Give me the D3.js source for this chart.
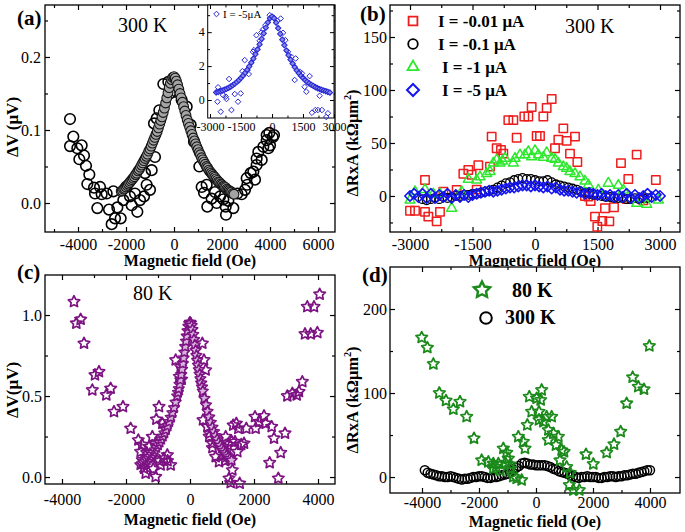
<!DOCTYPE html>
<html><head><meta charset="utf-8">
<script src="https://cdn.jsdelivr.net/npm/d3@7"></script>
<style>body{margin:0;background:#fff} svg{display:block}</style>
</head><body><svg id="c" width="685" height="532"></svg>
<script>
// ---------------- DATA ----------------
// (a) 300 K, ΔV raw data (open circles) and fit (filled circles)
const aRawField = [-4333,-4333,-4195,-4028,-3847,-3944,-3750,-3667,-3528,-3611,-3333,-3083,-3292,-3014,-2806,-3194,-2708,-2528,-2361,-2458,-2597,-2222,-2111,-2000,-1833,-1764,-1625,-1528,-1417,-1250,-1139,-1000,-1208,-931,-792,-833,-722,-611,-444,-236,-167,111,319,528,694,833,1056,1153,1250,1361,1389,1569,1708,1778,1917,2056,2153,2264,2167,2472,2639,2819,2958,3056,3028,3194,3375,3306,3444,3444,3653,3514,3722,3931,3861,4111,3861,4000,3972,4167];
const aRawDV = [0.115,0.078,0.091,0.075,0.079,0.060,0.065,0.051,0.039,0.026,0.021,0.022,0.013,0.012,0.013,-0.007,-0.009,0.016,-0.006,-0.021,-0.029,-0.021,0.004,0.022,0.009,-0.003,0.013,-0.012,0.004,0.009,0.025,0.018,0.041,0.045,0.063,0.109,0.116,0.127,0.163,0.166,0.150,0.152,0.141,0.132,0.107,0.084,0.050,0.022,0.014,0.025,-0.005,0.006,0.015,0.000,0.009,0.005,-0.005,0.003,-0.016,-0.007,0.013,0.012,0.018,0.025,0.034,0.041,0.032,0.043,0.052,0.061,0.059,0.070,0.077,0.075,0.086,0.090,0.093,0.079,0.096,0.093];
const aFitField = d3.range(-2200, 2501, 50);
const aFitDV = [0.016,0.017,0.019,0.020,0.022,0.024,0.026,0.028,0.030,0.032,0.034,0.036,0.039,0.041,0.044,0.046,0.049,0.052,0.055,0.058,0.061,0.064,0.067,0.071,0.074,0.078,0.082,0.086,0.090,0.094,0.098,0.103,0.108,0.113,0.118,0.124,0.130,0.137,0.144,0.151,0.158,0.164,0.169,0.172,0.173,
  0.171,0.167,0.162,0.156,0.150,0.144,0.138,0.132,0.126,0.120,0.114,0.109,0.104,0.099,0.094,0.089,0.085,0.081,0.077,0.073,0.069,0.066,0.062,0.059,0.056,0.053,0.050,0.048,0.045,0.043,0.041,0.039,0.037,0.035,0.033,0.031,0.029,0.028,0.026,0.025,0.023,0.022,0.021,0.019,0.018,0.017,0.016,0.015,0.013,0.012];

// inset of (a): I = -5 µA
const inRawField = [-2609,-2638,-2478,-2367,-2237,-2203,-2077,-1961,-1802,-1643,-1512,-1430,-1319,-1188,-1126,-918,-870,-754,-594,-512,-435,-319,-111,82,261,420,531,647,773,937,1145,1097,1338,1449,1580,1821,1662,1932,2097,2222,2304,2415,2628,2705];
const inRawV = [0.75,-0.1,-0.69,0.29,0.2,0.06,1.24,-0.59,0.35,-0.1,0.39,1.7,2.35,1.76,1.53,2.84,2.94,3.82,3.49,3.98,4.16,4.41,5.0,4.86,4.67,4.8,3.96,3.53,2.84,2.55,2.45,1.18,1.67,1.57,0.78,1.41,0.49,-0.75,-0.59,-0.59,0.25,-0.59,-1.0,-0.78];
const inFitField = d3.range(-2700, 2801, 100);
const inFitV = [0.45,0.48,0.52,0.56,0.61,0.66,0.72,0.79,0.87,0.96,1.06,1.17,1.30,1.44,1.60,1.78,1.98,2.20,2.44,2.70,2.98,3.28,3.60,3.93,4.26,4.57,4.82,4.92,4.82,4.56,4.24,3.90,3.56,3.23,2.92,2.64,2.38,2.15,1.94,1.75,1.58,1.43,1.30,1.18,1.07,0.98,0.90,0.83,0.76,0.70,0.65,0.60,0.56,0.52,0.48,0.44];

// (b) 300 K, ΔRxA for four currents
const bLegend = ["I = -0.01 \u03bcA", "I = -0.1 \u03bcA", "I = -1 \u03bcA", "I = -5 \u03bcA"];
const bRedField = [-3000,-2880,-2640,-2640,-2560,-2360,-2280,-2200,-1880,-1720,-1600,-1520,-1400,-1360,-1080,-1040,-920,-816,-760,-640,-520,-440,-256,-160,-80,40,120,200,280,400,480,560,680,760,840,960,1016,1200,1280,1336,1440,1496,1616,1680,1784,1896,2064,2200,2240,2440,2600,2900];
const bRedVal = [-14,-14,15,-15,-19.5,-24,-15,4,5.7,21,24.5,20,6,29,27.7,56,45,43.4,40,71.6,71.6,55,75,75,84,56.6,56.6,75,83,91.5,45,53,63.8,52,40,56,32,0,-0.6,-4.7,-19.5,-29,-23.6,-11.6,-24,-10.7,31,-3,16,39,-4,15];
const bBlackField = d3.range(-2700, 2701, 100);
const bBlackVal = [-3,-4,-3,-2,-3,-1,-2,-1,0,0,1,1,2,2,3,4,5,6,8,10,12,13,15,16,17,16,16,15,14,14,15,13,11,10,9,8,7,6,4,3,2,1,1,0,-1,-1,-2,-2,-2,-3,-3,-2,-3,-2,-2];
const bGreenField = [-3000,-2880,-2640,-2440,-2280,-2000,-1760,-1600,-1400,-1320,-1160,-1080,-1000,-920,-840,-780,-720,-520,-480,-360,-240,-160,-80,0,80,200,280,400,480,560,680,760,840,960,1080,1200,1280,1520,1760,2000,2120,2440,2680,2960];
const bGreenVal = [-4,4,6,2,2,-11.6,4,15.7,15,18,21,23,31,34,31,33,35.5,31,35.5,38.7,38.7,41.8,37,42.7,38.7,36.5,40.8,35.5,34.6,31,27.6,26,23,21,18,14,10.4,5.6,12,10,5.6,-7,-8,-4];
const bBlueField = d3.range(-3000, 3001, 100);
const bBlueVal = [0,2,-1,2,-2,2,-2,1,-1,2,-2,1,-1,1,-1,1,2,3,4,5,4,5,6,7,8,8,9,10,10,9,10,9,8,9,7,8,6,5,5,4,3,4,2,3,2,1,2,0,1,-1,1,-1,2,-2,1,-2,0,2,-1,1,0];

// (c) 80 K, ΔV raw (stars) and fit (filled stars)
const cRawField = [-3625,-3552,-3417,-3312,-2969,-2844,-3052,-2615,-2479,-2375,-2094,-1854,-1615,-1542,-1490,-1437,-1385,-1281,-1177,-1073,-1073,-969,-1052,-865,-812,-917,-708,-604,-771,-448,-260,-333,-292,385,437,490,406,542,615,698,802,906,1010,1115,1177,1219,1271,1323,1448,1510,1552,1406,1479,1688,1760,2052,2313,2365,2552,2625,2490,2760,2834,2969,3041,3198,3334,3406,3510,3594,3771,3979,3666,3875,4052,2031,2156,-1500,-1350,-1200,-1150,-950,-700,1300,1250,1100,700,600,1600,1350];
const cRawDV = [1.082,0.949,0.973,0.825,0.630,0.650,0.537,0.506,0.547,0.403,0.434,0.300,0.228,0.156,0.105,0.054,0.023,0.187,0.249,0.208,0.002,0.434,0.356,0.331,0.115,0.074,0.136,0.074,0.31,0.722,0.603,0.62,0.68,0.825,0.722,0.66,0.352,0.311,0.270,0.208,0.125,0.094,0.187,0.249,0.2,-0.008,-0.035,0.043,0.331,0.300,-0.039,0.218,0.156,0.208,0.300,0.300,0.377,0.331,0.311,0.239,0.088,-0.008,0.150,0.270,0.500,0.517,0.506,0.527,0.588,0.883,0.883,0.891,1.051,1.051,1.128,0.372,0.341,0.2,0.15,0.12,0.05,0.1,0.1,0.22,0.12,0.1,0.18,0.25,0.2,0.32];
const cFitField = [].concat(d3.range(-1550, -400, 50), d3.range(-400, 401, 25), d3.range(450, 1301, 50));
const cFitDV = [0.075,0.082,0.090,0.098,0.107,0.117,0.128,0.140,0.153,0.167,0.182,0.198,0.215,0.233,0.252,0.272,0.293,0.316,0.341,0.368,0.397,0.428,0.462,
  0.500,0.522,0.545,0.572,0.600,0.632,0.665,0.700,0.735,0.770,0.805,0.838,0.870,0.902,0.930,0.948,0.955,0.950,0.935,0.910,0.880,0.848,0.815,0.782,0.750,0.720,0.690,0.662,0.635,0.607,0.580,0.555,0.530,
  0.485,0.445,0.405,0.370,0.337,0.307,0.280,0.255,0.233,0.213,0.195,0.178,0.163,0.149,0.136,0.124,0.113,0.103];

// (d) ΔRxA at 80 K (stars) and 300 K (circles)
const dLegend = ["80 K", "300 K"];
const dStarField = [-4011,-3813,-3602,-3392,-3158,-2900,-2667,-2433,-2175,-1906,-1672,-1497,-1322,-1146,-1029,-971,-1076,-889,-796,-678,-503,-620,-445,-386,-304,-234,-152,23,105,105,164,199,257,374,433,549,433,608,702,784,901,982,842,1076,1170,1310,1520,1754,2011,2480,2737,2971,3181,3392,3591,3789,3977,-1400,-1250,-1500,-900,1200];
const dStarVal = [166,154,134.5,100,91,80.6,89.6,71.8,46,20,18,16,16,34,29,22,17,10,0.4,-1.6,-3.6,48,42,34,62,95.6,77.7,93.7,77.7,68,91.7,103.6,65.8,71.8,56,71.8,44,52,38,48,32,30,20,12,-9.5,-15.5,-15.5,27,15.5,29,39,54,87.7,118.7,107.5,104.4,156,12,8,10,15,5];
const dCircField = d3.range(-3900, 4001, 100);
const dCircVal = [8,5,4,3,2,1,1,0,0,1,0,-1,-2,-3,-2,-2,-1,0,0,1,1,0,-1,-1,0,0,1,2,3,4,6,9,11,13,16,17,16,15,15,14,14,14,14,13,12,10,9,7,6,5,4,2,1,0,-1,0,0,1,0,0,0,-1,-1,0,0,1,1,0,1,1,2,2,3,4,4,5,6,7,8,8];

// ---------------- DRAWING ----------------
const FONT = '"Liberation Serif","Times New Roman",Times,serif';
const svg = d3.select("#c");

function starPath(R, ratio) {
  const p = [];
  for (let i = 0; i < 10; i++) {
    const r = i % 2 ? R * ratio : R, a = -Math.PI / 2 + i * Math.PI / 5;
    p.push((r * Math.cos(a)).toFixed(2) + "," + (r * Math.sin(a)).toFixed(2));
  }
  return "M" + p.join("L") + "Z";
}
function shapePath(shape, s) {
  if (shape === "square") return `M${-s},${-s}H${s}V${s}H${-s}Z`;
  if (shape === "diamond") return `M0,${-s}L${s},0L0,${s}L${-s},0Z`;
  if (shape === "triangle") { const h = s * Math.sqrt(3) / 2; return `M0,${-2*h/3}L${s/2},${h/3}L${-s/2},${h/3}Z`; }
  if (shape === "star") return starPath(s, 0.5);
  return d3.symbol(d3.symbolCircle, Math.PI * s * s)();
}
function markers(g, x, y, xs, ys, shape, size, stroke, fill, sw) {
  const data = xs.map((v, i) => [v, ys[i]]).filter(d => d[1] !== undefined);
  if (shape === "circle") {
    g.append("g").selectAll("circle").data(data).join("circle")
      .attr("cx", d => x(d[0])).attr("cy", d => y(d[1])).attr("r", size)
      .attr("fill", fill).attr("stroke", stroke).attr("stroke-width", sw);
  } else {
    const p = shapePath(shape, size);
    g.append("g").selectAll("path").data(data).join("path")
      .attr("d", p).attr("transform", d => `translate(${x(d[0])},${y(d[1])})`)
      .attr("fill", fill).attr("stroke", stroke).attr("stroke-width", sw).attr("stroke-linejoin", "round");
  }
}
function legendMarker(g, cx, cy, shape, size, stroke, fill, sw) {
  if (shape === "circle") g.append("circle").attr("cx", cx).attr("cy", cy).attr("r", size).attr("fill", fill).attr("stroke", stroke).attr("stroke-width", sw);
  else g.append("path").attr("d", shapePath(shape, size)).attr("transform", `translate(${cx},${cy})`).attr("fill", fill).attr("stroke", stroke).attr("stroke-width", sw);
}
const fmtInt = d => String(d);

function panel(o) {
  const x = d3.scaleLinear().domain(o.xd).range([o.L, o.R]);
  const y = d3.scaleLinear().domain(o.yd).range([o.B, o.T]);
  const g = svg.append("g");
  g.append("rect").attr("x", o.L).attr("y", o.T).attr("width", o.R - o.L).attr("height", o.B - o.T).attr("fill", "#fff");
  const ax = (gen, tx, ty, vals, size, fmt, pad) => {
    const a = g.append("g").attr("transform", `translate(${tx},${ty})`)
      .call(gen.tickValues(vals).tickSize(size).tickPadding(pad).tickFormat(fmt));
    a.select(".domain").remove();
    a.selectAll("line").attr("stroke", "#000").attr("stroke-width", o.tw || 1.2);
    a.selectAll("text").attr("font-family", FONT).attr("font-size", o.fs).attr("fill", "#000");
    return a;
  };
  const none = () => "";
  ax(d3.axisBottom(x), 0, o.B, o.xMaj, -o.tk, o.xFmt, o.xPad);
  ax(d3.axisBottom(x), 0, o.B, o.xMin, -o.tk * 0.6, none, 0);
  ax(d3.axisTop(x), 0, o.T, o.xMaj, -o.tk, none, 0);
  ax(d3.axisTop(x), 0, o.T, o.xMin, -o.tk * 0.6, none, 0);
  ax(d3.axisLeft(y), o.L, 0, o.yMaj, -o.tk, o.yFmt, o.yPad);
  ax(d3.axisLeft(y), o.L, 0, o.yMin, -o.tk * 0.6, none, 0);
  ax(d3.axisRight(y), o.R, 0, o.yMaj, -o.tk, none, 0);
  ax(d3.axisRight(y), o.R, 0, o.yMin, -o.tk * 0.6, none, 0);
  g.append("rect").attr("x", o.L).attr("y", o.T).attr("width", o.R - o.L).attr("height", o.B - o.T)
    .attr("fill", "none").attr("stroke", "#000").attr("stroke-width", o.bw || 1.3);
  return { g, x, y };
}
function text(g, x, y, str, size, weight, anchor) {
  return g.append("text").attr("x", x).attr("y", y).attr("font-family", FONT).attr("font-size", size)
    .attr("font-weight", weight || "normal").attr("text-anchor", anchor || "start").attr("fill", "#000").text(str);
}
function yTitle(cx, cy, parts, size) {
  const t = svg.append("text").attr("transform", `translate(${cx},${cy}) rotate(-90)`)
    .attr("text-anchor", "middle").attr("font-family", FONT).attr("font-size", size).attr("font-weight", "bold").attr("fill", "#000");
  parts.forEach(p => {
    const s = t.append("tspan").text(p.t);
    if (p.sup) s.attr("font-size", size * 0.62).attr("dy", -size * 0.42);
    if (p.after) s.attr("dy", size * 0.42);
  });
}

// ---- Panel (a)
const A = panel({ L: 45, R: 335, T: 5, B: 232, xd: [-5375, 6708], yd: [-0.0397, 0.2712],
  xMaj: [-4000, -2000, 0, 2000, 4000, 6000], xMin: [-5000, -3000, -1000, 1000, 3000, 5000],
  yMaj: [0, 0.1, 0.2], yMin: [0.05, 0.15, 0.25], xFmt: fmtInt, yFmt: d3.format(".1f"),
  xPad: 7, yPad: 4, tk: 5, fs: 16 });
markers(A.g, A.x, A.y, aRawField, aRawDV, "circle", 5.3, "#000", "none", 1.6);
markers(A.g, A.x, A.y, aFitField, aFitDV, "circle", 4.9, "#141414", "#a4a4a4", 1.1);
text(svg, 17, 25, "(a)", 21, "bold");
text(svg, 118, 32, "300 K", 20);
text(svg, 190, 266, "Magnetic field (Oe)", 16, "bold", "middle");
yTitle(18, 127, [{ t: "\u0394V (\u03bcV)" }], 17);

// inset
const IN = panel({ L: 207.7, R: 334, T: 5, B: 118, xd: [-3110, 3000], yd: [-1.06, 5.6],
  xMaj: [-3000, -1500, 0, 1500, 3000], xMin: [-2250, -750, 750, 2250],
  yMaj: [0, 2, 4], yMin: [1, 3, 5], xFmt: fmtInt, yFmt: fmtInt,
  xPad: 4, yPad: 3, tk: 4, fs: 12, bw: 1, tw: 1 });
const INB = "#2a2ad6";
markers(IN.g, IN.x, IN.y, inRawField, inRawV, "diamond", 2.8, INB, "none", 1);
markers(IN.g, IN.x, IN.y, inFitField, inFitV, "diamond", 2.7, INB, "#8a8ae8", 1.1);
legendMarker(svg, 216.5, 14, "diamond", 2.8, INB, "none", 1);
text(svg, 223, 18, "I = -5\u03bcA", 11);

// ---- Panel (b)
const B = panel({ L: 390, R: 680, T: 5, B: 232, xd: [-3480, 3480], yd: [-34, 180.2],
  xMaj: [-3000, -1500, 0, 1500, 3000], xMin: [-2250, -750, 750, 2250],
  yMaj: [0, 50, 100, 150], yMin: [-25, 25, 75, 125, 175], xFmt: fmtInt, yFmt: fmtInt,
  xPad: 7, yPad: 3, tk: 5, fs: 16 });
const RED = "#ee1d1d", GRN = "#2ee82e", BLU = "#1414f0";
markers(B.g, B.x, B.y, bRedField, bRedVal, "square", 4.2, RED, "none", 1.5);
markers(B.g, B.x, B.y, bBlackField, bBlackVal, "circle", 4.3, "#000", "none", 1.3);
markers(B.g, B.x, B.y, bGreenField, bGreenVal, "triangle", 10, GRN, "none", 1.5);
markers(B.g, B.x, B.y, bBlueField, bBlueVal, "diamond", 5.2, BLU, "none", 1.6);
const bl = [["square", 4.4, RED, 1.8], ["circle", 4.8, "#000", 1.8], ["triangle", 11, GRN, 1.8], ["diamond", 6, BLU, 2]];
const blY = [21, 44, 67, 90], blX = [438, 438, 442, 442];
bl.forEach((m, i) => {
  legendMarker(svg, 413, blY[i], m[0], m[1], m[2], "none", m[3]);
  text(svg, blX[i], blY[i] + 6, bLegend[i], 17, "bold");
});
text(svg, 565, 33, "300 K", 20);
text(svg, 360, 21, "(b)", 21, "bold");
text(svg, 535, 266, "Magnetic field (Oe)", 16, "bold", "middle");
yTitle(358, 143, [{ t: "\u0394RxA (k\u03a9\u03bcm" }, { t: "2", sup: true }, { t: ")", after: true }], 16.5);

// ---- Panel (c)
const C = panel({ L: 45, R: 335, T: 275, B: 484, xd: [-4531, 4531], yd: [-0.043, 1.247],
  xMaj: [-4000, -2000, 0, 2000, 4000], xMin: [-3000, -1000, 1000, 3000],
  yMaj: [0, 0.5, 1.0], yMin: [0.25, 0.75], xFmt: fmtInt, yFmt: d3.format(".1f"),
  xPad: 10, yPad: 3, tk: 5, fs: 16 });
const PUR = "#7d1283";
markers(C.g, C.x, C.y, cRawField, cRawDV, "star", 6, PUR, "none", 1.7);
markers(C.g, C.x, C.y, cFitField, cFitDV, "star", 5.6, PUR, "#d7b4dd", 1.6);
text(svg, 17, 279, "(c)", 21, "bold");
text(svg, 133, 300, "80 K", 20);
text(svg, 190, 525, "Magnetic field (Oe)", 16, "bold", "middle");
yTitle(18, 390, [{ t: "\u0394V(\u03bcV)" }], 17);

// ---- Panel (d)
const D = panel({ L: 390, R: 680, T: 267, B: 493, xd: [-5123, 5053], yd: [-19, 250],
  xMaj: [-4000, -2000, 0, 2000, 4000], xMin: [-3000, -1000, 1000, 3000],
  yMaj: [0, 100, 200], yMin: [50, 150], xFmt: fmtInt, yFmt: fmtInt,
  xPad: 4, yPad: 3, tk: 5, fs: 16 });
const DG = "#1b8a1b";
markers(D.g, D.x, D.y, dCircField, dCircVal, "circle", 4.5, "#000", "none", 1.5);
markers(D.g, D.x, D.y, dStarField, dStarVal, "star", 6, DG, "none", 1.8);
legendMarker(svg, 482, 290, "star", 8.5, DG, "none", 2.4);
legendMarker(svg, 486, 318, "circle", 5.8, "#000", "none", 2);
text(svg, 512, 297, dLegend[0], 20, "bold");
text(svg, 505, 324, dLegend[1], 20, "bold");
text(svg, 362, 282, "(d)", 21, "bold");
text(svg, 535, 527, "Magnetic field (Oe)", 16, "bold", "middle");
yTitle(358, 400, [{ t: "\u0394RxA (k\u03a9\u03bcm" }, { t: "2", sup: true }, { t: ")", after: true }], 16.5);
</script>
</body></html>
